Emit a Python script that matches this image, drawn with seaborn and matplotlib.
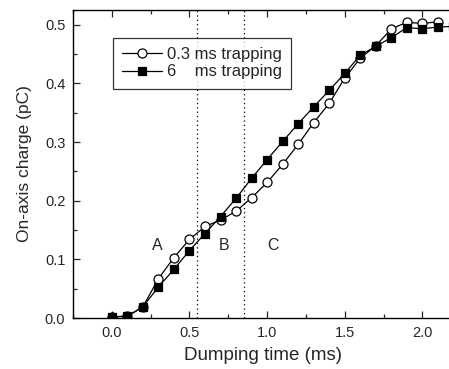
import matplotlib
matplotlib.use('Agg')
import matplotlib.pyplot as plt
import seaborn as sns

# Dumping time (ms)
time_short = [0.0, 0.1, 0.2, 0.3, 0.4, 0.5, 0.6, 0.7, 0.8, 0.9, 1.0,
              1.1, 1.2, 1.3, 1.4, 1.5, 1.6, 1.7, 1.8, 1.9, 2.0, 2.1]
time_long = time_short + [2.2]

# On-axis charge (pC)
charge_short = [0.002, 0.003, 0.019, 0.067, 0.103, 0.134, 0.156, 0.167, 0.182, 0.205, 0.231,
                0.262, 0.296, 0.333, 0.366, 0.409, 0.443, 0.464, 0.493, 0.504, 0.502, 0.505]
charge_long = [0.002, 0.003, 0.019, 0.053, 0.083, 0.115, 0.144, 0.173, 0.204, 0.238, 0.270,
               0.301, 0.331, 0.360, 0.388, 0.417, 0.448, 0.463, 0.478, 0.495, 0.493, 0.496, 0.497]

region_bounds = [0.55, 0.85]
region_labels = ['A', 'B', 'C']
region_label_x = [0.29, 0.72, 1.04]
region_label_y = 0.123

sns.set_style('ticks')
plt.rcParams['font.family'] = ['Liberation Sans', 'DejaVu Sans']
plt.rcParams['xtick.direction'] = 'in'
plt.rcParams['ytick.direction'] = 'in'

fig = plt.figure(figsize=(4.49, 3.69), dpi=100)
ax = fig.add_axes([73 / 449, 1 - 318 / 369, 1 - 73 / 449 + 0.01, 308 / 369])

sns.lineplot(x=time_short, y=charge_short, ax=ax, color='black', lw=0.9,
             marker='o', markersize=6.5, markerfacecolor='white',
             markeredgecolor='black', markeredgewidth=0.9,
             label='0.3 ms trapping')
sns.lineplot(x=time_long, y=charge_long, ax=ax, color='black', lw=0.9,
             marker='s', markersize=6, markerfacecolor='black',
             markeredgecolor='black', markeredgewidth=0.9,
             label='6    ms trapping')

# dotted region boundaries and region names
for xb in region_bounds:
    ax.axvline(xb, color='black', ls=(0, (1, 2.5)), lw=0.9)
for lab, xl in zip(region_labels, region_label_x):
    ax.text(xl, region_label_y, lab, fontsize=11.5, ha='center', va='center')

ax.set_xlim(-0.25, 2.2)
ax.set_ylim(0.0, 0.525)
ax.set_xticks([0.0, 0.5, 1.0, 1.5, 2.0])
ax.set_xticks([-0.25, 0.25, 0.75, 1.25, 1.75], minor=True)
ax.set_yticks([0.0, 0.1, 0.2, 0.3, 0.4, 0.5])
ax.set_yticks([0.05, 0.15, 0.25, 0.35, 0.45], minor=True)
ax.xaxis.set_major_formatter(matplotlib.ticker.FormatStrFormatter('%.1f'))
ax.yaxis.set_major_formatter(matplotlib.ticker.FormatStrFormatter('%.1f'))
ax.tick_params(which='major', length=5, width=0.9, labelsize=10.5, top=True, pad=5.5)
ax.tick_params(which='minor', length=3, width=0.9, top=True)
for s in ax.spines.values():
    s.set_linewidth(1.0)
    s.set_color('black')

ax.set_xlabel('Dumping time (ms)', fontsize=13.5, labelpad=5)
ax.set_ylabel('On-axis charge (pC)', fontsize=12.5, labelpad=9)

leg = ax.legend(loc='upper left', bbox_to_anchor=(0.105, 0.91), fontsize=12,
                frameon=True, fancybox=False, edgecolor='black',
                handlelength=2.4, handletextpad=0.3, borderpad=0.55,
                labelspacing=0.15, borderaxespad=0)
leg.get_frame().set_linewidth(0.9)

fig.savefig('out.png', dpi=100)
